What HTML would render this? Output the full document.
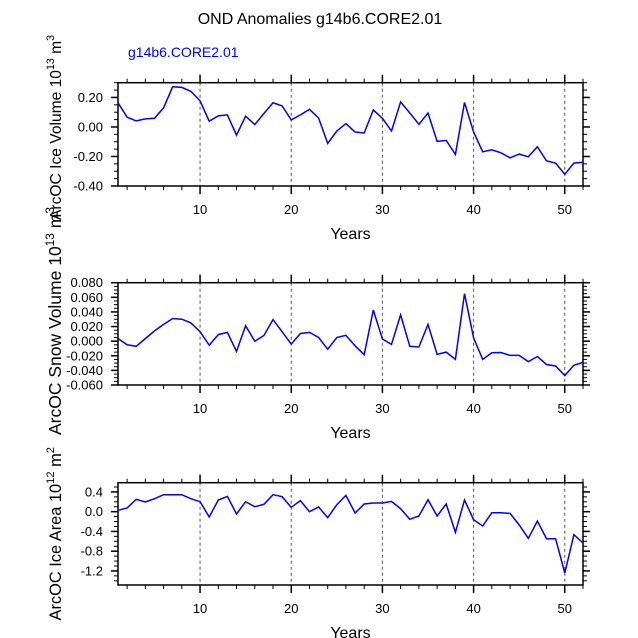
<!DOCTYPE html>
<html><head><meta charset="utf-8"><style>
body{margin:0;background:#fff}
svg{display:block;font-family:"Liberation Sans",sans-serif}
</style></head><body>
<svg id="chart" width="638" height="638" viewBox="0 0 638 638" xmlns="http://www.w3.org/2000/svg">
<text x="320" y="24" font-size="16" text-anchor="middle">OND Anomalies g14b6.CORE2.01</text>
<text x="128" y="57" font-size="14" fill="#0000ff">g14b6.CORE2.01</text>
</svg>
<script>
const years = [];
for (let i = 1; i <= 52; i++) years.push(i);
const xTicks = [10, 20, 30, 40, 50];
const iceVolume = [0.164,0.066,0.041,0.055,0.059,0.13,0.273,0.268,0.241,0.177,0.039,0.075,0.082,-0.055,0.073,0.016,0.091,0.164,0.143,0.048,0.082,0.12,0.061,-0.111,-0.027,0.023,-0.034,-0.041,0.116,0.059,-0.027,0.17,0.095,0.018,0.095,-0.098,-0.091,-0.186,0.166,-0.034,-0.168,-0.155,-0.175,-0.209,-0.184,-0.202,-0.134,-0.23,-0.245,-0.32,-0.245,-0.239];
const snowVolume = [0.0036,-0.005,-0.007,0.0036,0.014,0.023,0.031,0.030,0.025,0.013,-0.0055,0.009,0.012,-0.014,0.021,0.0,0.0077,0.0295,0.013,-0.004,0.0105,0.012,0.005,-0.011,0.005,0.008,-0.0064,-0.0186,0.0427,0.003,-0.0045,0.036,-0.007,-0.008,0.023,-0.018,-0.015,-0.025,0.065,0.0045,-0.025,-0.016,-0.0155,-0.0195,-0.0195,-0.028,-0.021,-0.032,-0.034,-0.047,-0.033,-0.029];
const iceArea = [0.027,0.074,0.25,0.196,0.263,0.344,0.344,0.344,0.263,0.203,-0.108,0.236,0.31,-0.047,0.203,0.101,0.149,0.344,0.304,0.088,0.223,0,0.095,-0.12,0.142,0.33,-0.027,0.155,0.176,0.176,0.209,0.061,-0.155,-0.088,0.243,-0.088,0.155,-0.419,0.236,-0.162,-0.29,-0.02,-0.02,-0.034,-0.27,-0.54,-0.189,-0.547,-0.547,-1.242,-0.466,-0.635];
const iceVolTicks = [0.2, 0.0, -0.2, -0.4];
const iceVolLabels = ["0.20","0.00","-0.20","-0.40"];
const snowTicks = [0.08,0.06,0.04,0.02,0.0,-0.02,-0.04,-0.06];
const snowLabels = ["0.080","0.060","0.040","0.020","0.000","-0.020","-0.040","-0.060"];
const areaTicks = [0.4,0.0,-0.4,-0.8,-1.2];
const areaLabels = ["0.4","0.0","-0.4","-0.8","-1.2"];

const NS = "http://www.w3.org/2000/svg";
const svg = document.getElementById("chart");
function mk(tag, attrs, parent) {
  const e = document.createElementNS(NS, tag);
  for (const k in attrs) e.setAttribute(k, attrs[k]);
  (parent || svg).appendChild(e);
  return e;
}
const X0 = 118, X1 = 583;
function xs(v) { return X0 + (v - 1) / 51 * (X1 - X0); }

function panel(name, top, bottom, ymin, ymax, data, ticks, labels, minorStep, titleTop, titleSize, titleParts) {
  const g = mk("g", {});
  
  
  const ys = v => bottom - (v - ymin) / (ymax - ymin) * (bottom - top);
  xTicks.forEach(t => {
    const l = mk("line", {x1: xs(t), x2: xs(t), y1: top, y2: bottom, stroke: "#555", "stroke-width": 1, "stroke-dasharray": "3,3"}, g);
    
    
  });
  for (let t = 2; t <= 52; t += 2) {
    const major = t % 10 === 0;
    const len = major ? 8 : 4;
    mk("line", {x1: xs(t), x2: xs(t), y1: bottom, y2: bottom + len, stroke: "#000", "stroke-width": major ? 1.5 : 1}, g);
    mk("line", {x1: xs(t), x2: xs(t), y1: top, y2: top - len, stroke: "#000", "stroke-width": major ? 1.5 : 1}, g);
  }
  xTicks.forEach(t => {
    const tx = mk("text", {x: xs(t), y: bottom + 28, "font-size": 13, "text-anchor": "middle"}, g);
    tx.textContent = t;
    
    
  });
  const start = Math.ceil(ymin / minorStep - 1e-6);
  for (let k = start; k * minorStep <= ymax + 1e-9; k++) {
    const y = ys(k * minorStep);
    mk("line", {x1: X0, x2: X0 - 4, y1: y, y2: y, stroke: "#000", "stroke-width": 1}, g);
    mk("line", {x1: X1, x2: X1 + 4, y1: y, y2: y, stroke: "#000", "stroke-width": 1}, g);
  }
  ticks.forEach((t, i) => {
    const y = ys(t);
    mk("line", {x1: X0, x2: X0 - 7, y1: y, y2: y, stroke: "#000", "stroke-width": 1.5}, g);
    mk("line", {x1: X1, x2: X1 + 7, y1: y, y2: y, stroke: "#000", "stroke-width": 1.5}, g);
    const tx = mk("text", {x: 103, y: y + 4.5, "font-size": 13, "text-anchor": "end"}, g);
    tx.textContent = labels[i];
    
    
  });
  const fr = mk("rect", {x: X0, y: top, width: X1 - X0, height: bottom - top, fill: "none", stroke: "#000", "stroke-width": 1.5}, g);
  
  
  const pts = data.map((v, i) => xs(years[i]).toFixed(1) + "," + ys(v).toFixed(1)).join(" ");
  const pl = mk("polyline", {points: pts, fill: "none", stroke: "#0000ff", "stroke-width": 1.5}, g);
  
  
  const xt = mk("text", {x: (X0 + X1) / 2, y: bottom + 53, "font-size": 16, "text-anchor": "middle"}, g);
  xt.textContent = "Years";
  
  
  const yt = mk("text", {x: 0, y: 0, "font-size": titleSize, "text-anchor": "end", transform: "translate(61," + titleTop + ") rotate(-90)"}, g);
  
  
  titleParts.forEach(p => {
    const s = mk("tspan", p.sup ? {"font-size": titleSize * 0.68, dy: -7} : {dy: p.down ? 7 : 0}, yt);
    s.textContent = p.t;
  });
}
panel("ice-volume", 82.7, 186, -0.4, 0.3, iceVolume, iceVolTicks, iceVolLabels, 0.05, 35, 15.6,
  [{t: "ArcOC Ice Volume 10"}, {t: "13", sup: 1}, {t: " m", down: 1}, {t: "3", sup: 1}]);
panel("snow-volume", 282.7, 385, -0.06, 0.08, snowVolume, snowTicks, snowLabels, 0.005, 207, 17.5,
  [{t: "ArcOC Snow Volume 10"}, {t: "13", sup: 1}, {t: " m", down: 1}, {t: "3", sup: 1}]);
panel("ice-area", 482.7, 585, -1.485, 0.587, iceArea, areaTicks, areaLabels, 0.1, 447, 16.4,
  [{t: "ArcOC Ice Area 10"}, {t: "12", sup: 1}, {t: " m", down: 1}, {t: "2", sup: 1}]);
</script>
</body></html>
